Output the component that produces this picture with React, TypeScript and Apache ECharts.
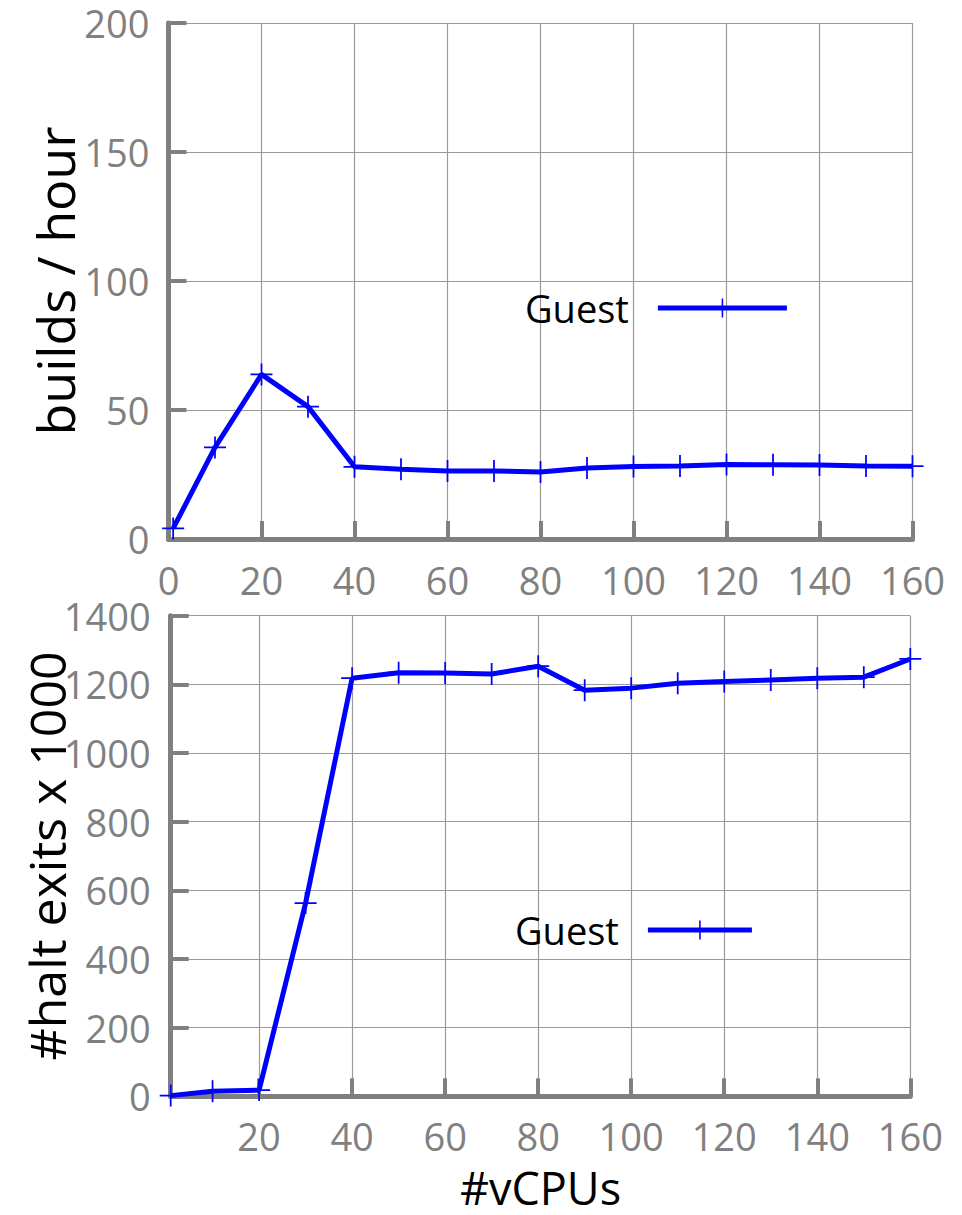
import React, { useEffect, useRef } from "react";
import * as echarts from "echarts";

const vcpus = [1, 10, 20, 30, 40, 50, 60, 70, 80, 90, 100, 110, 120, 130, 140, 150, 160];
const buildsPerHour = [4.1, 35.5, 63.8, 51.3, 28.0, 27.0, 26.4, 26.4, 26.0, 27.5, 28.1, 28.3, 28.9, 28.8, 28.7, 28.3, 28.2];
const haltExits = [2, 15, 18, 563, 1218, 1234, 1233, 1230, 1253, 1183, 1189, 1203, 1208, 1213, 1218, 1221, 1274];
const bottomXTicks = [20, 40, 60, 80, 100, 120, 140, 160];
const seriesName = "Guest";

const GRAY = "#808080";
const GRID_GRAY = "#999999";
const FONT = "Open Sans";
const PLUS = "path://M0,9.2h20v1.6h-20z M9.2,0h1.6v20h-1.6z";

export default function App() {
  const ref = useRef<HTMLDivElement>(null);
  useEffect(() => {
    if (!ref.current) return;
    const chart = echarts.init(ref.current, null, { renderer: "svg" });
    const axisLine = { show: true, lineStyle: { color: GRAY, width: 5 } };
    const axisTick = { show: true, inside: true, length: 18, lineStyle: { color: GRAY, width: 4 } };
    const splitLine = { show: true, lineStyle: { color: GRID_GRAY, width: 1.2 } };
    const fmt = (v: number) => String(v);
    const tickLabel = { color: GRAY, fontSize: 38, lineHeight: 40, fontFamily: FONT, formatter: fmt };
    const seriesCommon = {
      type: "line",
      name: seriesName,
      symbol: PLUS,
      symbolSize: 22,
      showAllSymbol: true,
      lineStyle: { color: "#0000ff", width: 5 },
      itemStyle: { color: "#0000ff" },
      z: 5,
    };
    const legendCommon = {
      data: [seriesName],
      align: "right",
      orient: "horizontal",
      padding: 0,
      itemHeight: 24,
      lineStyle: { width: 5, color: "#0000ff" },
      textStyle: { color: "#000", fontSize: 38, fontFamily: FONT, padding: [0, 24, 0, 0] },
    };
    chart.setOption({
      animation: false,
      backgroundColor: "#ffffff",
      grid: [
        { left: 168.5, right: 49.5, top: 23, height: 516, containLabel: false },
        { left: 170.7, right: 51.7, top: 615.7, height: 480.6, containLabel: false },
      ],
      xAxis: [
        {
          type: "value",
          gridIndex: 0,
          min: 0,
          max: 160,
          interval: 20,
          axisLine,
          axisTick,
          splitLine,
          axisLabel: { ...tickLabel, margin: 21 },
        },
        {
          type: "value",
          gridIndex: 1,
          min: 1,
          max: 160,
          axisLine,
          axisTick: { ...axisTick, customValues: bottomXTicks },
          splitLine,
          axisLabel: { ...tickLabel, margin: 20, customValues: bottomXTicks },
          name: "#vCPUs",
          nameLocation: "middle",
          nameGap: 69,
          nameMoveOverlap: false,
          nameTextStyle: { color: "#000", fontSize: 45, lineHeight: 45, fontFamily: FONT },
        },
      ],
      yAxis: [
        {
          type: "value",
          gridIndex: 0,
          min: 0,
          max: 200,
          interval: 50,
          axisLine,
          axisTick,
          splitLine,
          axisLabel: { ...tickLabel, margin: 19 },
          name: "builds / hour",
          nameLocation: "middle",
          nameRotate: 90,
          nameGap: 88,
          nameMoveOverlap: false,
          nameTextStyle: { color: "#000", fontSize: 52, fontFamily: FONT },
        },
        {
          type: "value",
          gridIndex: 1,
          min: 0,
          max: 1400,
          interval: 200,
          axisLine,
          axisTick,
          splitLine,
          axisLabel: { ...tickLabel, margin: 20 },
          name: "#halt exits x 1000",
          nameLocation: "middle",
          nameRotate: 90,
          nameGap: 99,
          nameMoveOverlap: false,
          nameTextStyle: { color: "#000", fontSize: 50, fontFamily: FONT },
        },
      ],
      legend: [
        { ...legendCommon, left: 525, top: 289, itemWidth: 129, seriesIndex: 0 },
        { ...legendCommon, left: 515, top: 911, itemWidth: 104, seriesIndex: 1 },
      ],
      series: [
        {
          ...seriesCommon,
          xAxisIndex: 0,
          yAxisIndex: 0,
          data: vcpus.map((v, i) => [v, buildsPerHour[i]]),
        },
        {
          ...seriesCommon,
          xAxisIndex: 1,
          yAxisIndex: 1,
          data: vcpus.map((v, i) => [v, haltExits[i]]),
        },
      ],
    });
    return () => chart.dispose();
  }, []);
  return (
    <div
      ref={ref}
      style={{ position: "fixed", left: 0, top: 0, width: 962, height: 1215, background: "#fff" }}
    />
  );
}
